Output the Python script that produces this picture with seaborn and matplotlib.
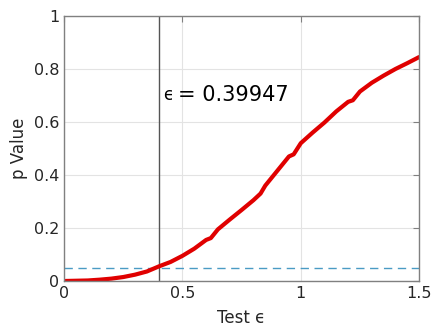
import matplotlib
matplotlib.use('Agg')
import matplotlib.pyplot as plt
import pandas as pd
import seaborn as sns

# Data
test_eps = [0.00, 0.05, 0.10, 0.15, 0.20, 0.25, 0.30, 0.35, 0.40, 0.45,
            0.50, 0.55, 0.60, 0.62, 0.65, 0.70, 0.75, 0.80, 0.83, 0.85, 0.90, 0.95,
            0.97, 1.00, 1.05, 1.10, 1.15, 1.20, 1.22, 1.25, 1.30, 1.35, 1.40, 1.45, 1.50]
p_value = [0.000, 0.001, 0.002, 0.005, 0.009, 0.015, 0.024, 0.036, 0.055, 0.072,
           0.095, 0.122, 0.155, 0.162, 0.195, 0.232, 0.268, 0.305, 0.330, 0.360, 0.415, 0.470,
           0.478, 0.520, 0.560, 0.598, 0.640, 0.676, 0.682, 0.715, 0.748, 0.775, 0.800, 0.822, 0.845]
eps_star = 0.39947
alpha = 0.05

df = pd.DataFrame({'eps': test_eps, 'p': p_value})

sns.set_style('white')
fig, ax = plt.subplots(figsize=(4.33, 3.26), dpi=100)
fig.subplots_adjust(left=0.148, right=0.968, top=0.951, bottom=0.138)

ax.grid(True, color='#e3e3e3', linewidth=0.8)
ax.set_axisbelow(True)

ax.axhline(alpha, color='#4a9bc4', linestyle=(0, (6, 4)), linewidth=1.0)
ax.axvline(eps_star, color='#555555', linewidth=1.0)
sns.lineplot(data=df, x='eps', y='p', color='#e00000', linewidth=3, ax=ax)

ax.text(0.418, 0.70, '\u03f5', fontsize=12, va='center', ha='left', color='black')
ax.text(0.483, 0.70, '= %.5f' % eps_star, fontsize=15,
        va='center', ha='left', color='black')

ax.set_xlim(0, 1.5)
ax.set_ylim(0, 1)
ax.set_xticks([0, 0.5, 1, 1.5])
ax.set_xticklabels(['0', '0.5', '1', '1.5'])
ax.set_yticks([0, 0.2, 0.4, 0.6, 0.8, 1])
ax.set_yticklabels(['0', '0.2', '0.4', '0.6', '0.8', '1'])
ax.tick_params(direction='in', length=4, top=True, right=True, labelsize=11.5,
               colors='#808080', labelcolor='#262626', width=0.8)
for s in ax.spines.values():
    s.set_color('#808080')
    s.set_linewidth(1.0)

ax.set_xlabel('Test \u03f5', fontsize=12, color='#262626', labelpad=6)
ax.set_ylabel('p Value', fontsize=12, color='#262626', labelpad=4)

plt.savefig('out.png', dpi=100)
